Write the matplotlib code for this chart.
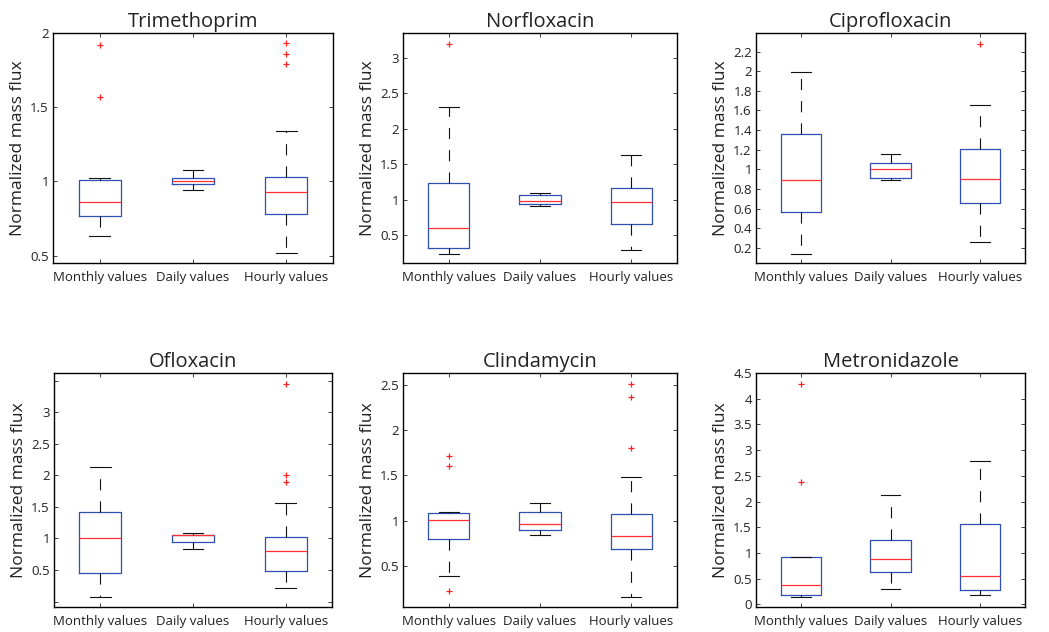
import matplotlib

matplotlib.use("Agg")
import matplotlib.pyplot as plt

BOX_COLOR = "#2f4fb4"
MEDIAN_COLOR = "#ff3030"
FLIER_COLOR = "#ff2020"

plt.rcParams["font.family"] = ["Open Sans", "DejaVu Sans"]

groups = ["Monthly values", "Daily values", "Hourly values"]
titles = ["Trimethoprim", "Norfloxacin", "Ciprofloxacin",
          "Ofloxacin", "Clindamycin", "Metronidazole"]

# per compound: rows = monthly, daily, hourly ; (whislo, q1, med, q3, whishi)
trimethoprim = [(0.63, 0.77, 0.86, 1.01, 1.02), (0.94, 0.98, 1.00, 1.02, 1.08), (0.52, 0.78, 0.93, 1.03, 1.34)]
norfloxacin = [(0.23, 0.32, 0.61, 1.24, 2.31), (0.92, 0.94, 0.98, 1.07, 1.09), (0.30, 0.66, 0.97, 1.16, 1.63)]
ciprofloxacin = [(0.14, 0.57, 0.89, 1.36, 1.99), (0.89, 0.91, 1.005, 1.06, 1.16), (0.255, 0.66, 0.90, 1.21, 1.66)]
ofloxacin = [(0.07, 0.46, 1.005, 1.42, 2.13), (0.84, 0.95, 1.05, 1.06, 1.08), (0.21, 0.485, 0.795, 1.02, 1.56)]
clindamycin = [(0.39, 0.80, 1.006, 1.09, 1.10), (0.845, 0.90, 0.96, 1.10, 1.20), (0.16, 0.69, 0.83, 1.08, 1.48)]
metronidazole = [(0.14, 0.19, 0.38, 0.92, 0.93), (0.30, 0.635, 0.89, 1.25, 2.13), (0.175, 0.29, 0.56, 1.57, 2.78)]

outliers = [
    [[1.92, 1.57], [], [1.79, 1.86, 1.93]],
    [[3.19], [], []],
    [[], [], [2.28]],
    [[], [], [1.895, 2.0, 3.45]],
    [[0.23, 1.61, 1.71], [], [1.80, 2.36, 2.51]],
    [[2.38, 4.29], [], []],
]

ylims = [(0.45, 2.0), (0.11, 3.35), (0.045, 2.39), (-0.085, 3.62), (0.05, 2.63), (-0.05, 4.5)]
yticks = [
    [0.5, 1, 1.5, 2],
    [0.5, 1, 1.5, 2, 2.5, 3],
    [0.2, 0.4, 0.6, 0.8, 1, 1.2, 1.4, 1.6, 1.8, 2, 2.2],
    [0, 0.5, 1, 1.5, 2, 2.5, 3, 3.5],
    [0.5, 1, 1.5, 2, 2.5],
    [0, 0.5, 1, 1.5, 2, 2.5, 3, 3.5, 4, 4.5],
]
hidden_labels = [[], [], [], [0, 3.5], [], []]

all_stats = [trimethoprim, norfloxacin, ciprofloxacin, ofloxacin, clindamycin, metronidazole]

# axes rectangles in pixels (left, top, right, bottom)
W, H = 1049, 632
rects = [
    (53, 33, 333, 263), (403, 33, 677, 263), (756, 33, 1025, 263),
    (54, 373, 332, 607), (403, 373, 677, 607), (756, 373, 1025, 607),
]


def fmt(v):
    return f"{v:g}"


fig = plt.figure(figsize=(W / 100, H / 100), dpi=100)

for i, title in enumerate(titles):
    l, t, r, b = rects[i]
    ax = fig.add_axes([l / W, 1 - b / H, (r - l) / W, (b - t) / H])
    stats = []
    for j, name in enumerate(groups):
        lo, q1, med, q3, hi = all_stats[i][j]
        stats.append(dict(label=name, whislo=lo, q1=q1, med=med, q3=q3, whishi=hi,
                          fliers=outliers[i][j]))
    ax.bxp(
        stats,
        positions=[1, 2, 3],
        widths=0.45,
        capwidths=0.22,
        boxprops=dict(color=BOX_COLOR, linewidth=0.9),
        medianprops=dict(color=MEDIAN_COLOR, linewidth=0.9),
        whiskerprops=dict(color="#111111", linewidth=0.8, linestyle=(0, (10, 10))),
        capprops=dict(color="#111111", linewidth=0.8),
        flierprops=dict(marker="+", markeredgecolor=FLIER_COLOR, markersize=5,
                        markeredgewidth=0.9, linestyle="none"),
    )
    ax.set_xlim(0.5, 3.5)
    ax.set_ylim(*ylims[i])
    ax.set_yticks(yticks[i])
    ax.set_yticklabels(["" if v in hidden_labels[i] else fmt(v) for v in yticks[i]])
    ax.set_xticks([1, 2, 3])
    ax.set_xticklabels(groups)
    ax.tick_params(direction="in", length=3, width=0.6, top=True, right=True,
                   labelsize=9.5, colors="#222222", pad=3)
    ax.tick_params(axis="x", pad=6)
    for side in ax.spines.values():
        side.set_linewidth(1.0)
    ax.set_title(title, fontsize=14.5, pad=4, color="#222222")
    ax.set_ylabel("Normalized mass flux", fontsize=12.5, labelpad=3, color="#222222")

fig.savefig("out.png", dpi=100)
